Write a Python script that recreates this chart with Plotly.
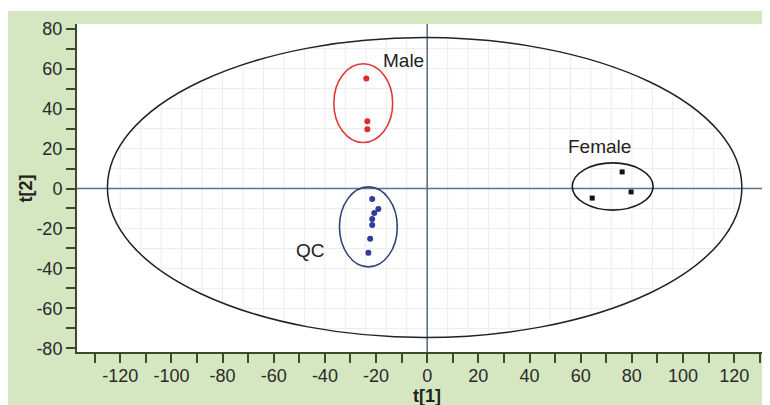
import numpy as np
import plotly.graph_objects as go

# ---- data ----
male_x = [-23.8, -23.4, -23.4]
male_y = [55.0, 33.7, 29.7]
qc_x = [-21.5, -19.1, -20.7, -21.5, -21.5, -22.3, -23.0]
qc_y = [-5.2, -10.2, -12.2, -15.2, -18.2, -25.2, -32.2]
female_x = [76.2, 79.7, 64.5]
female_y = [8.3, -1.7, -4.8]

group_names = ["Male", "QC", "Female"]
ell_cx = [-25.0, -23.0, 72.5]
ell_cy = [42.7, -19.2, 1.0]
ell_rx = [11.5, 11.3, 15.8]
ell_ry = [19.7, 20.0, 11.8]
label_x = [-9.1, -45.8, 67.5]
label_y = [63.9, -30.8, 20.8]

# Hotelling T2 ellipse
t2_cx, t2_cy, t2_rx, t2_ry = -1.0, 0.5, 124.0, 75.0

x_tickvals = list(range(-130, 131, 10))
x_ticktext = [str(v) if v % 20 == 0 else "" for v in x_tickvals]
y_tickvals = list(range(-80, 81, 10))
y_ticktext = [str(v) if v % 20 == 0 else "" for v in y_tickvals]

grid_x = list(range(-120, 121, 8))
grid_y = list(range(-70, 71, 10))

# ---- styles ----
GREEN = "#d5e7c1"
AXIS = "#3b4a2c"
REF = "#5d7189"
FONT = "Liberation Sans, Arial, sans-serif"
ell_colors = ["#e23a3a", "#34437e", "#1a1a1a"]

fig = go.Figure()

# faint grid clipped to the T2 ellipse
gx, gy = [], []
for g in grid_x:
    u = (g - t2_cx) / t2_rx
    if abs(u) < 1:
        h = t2_ry * np.sqrt(1 - u * u)
        gx += [g, g, None]
        gy += [t2_cy - h, t2_cy + h, None]
for g in grid_y:
    v = (g - t2_cy) / t2_ry
    if abs(v) < 1:
        w = t2_rx * np.sqrt(1 - v * v)
        gx += [t2_cx - w, t2_cx + w, None]
        gy += [g, g, None]
fig.add_trace(go.Scatter(x=gx, y=gy, mode="lines",
                         line=dict(color="#ededed", width=1),
                         hoverinfo="skip", showlegend=False))

# reference lines
fig.add_hline(y=0, line=dict(color=REF, width=1.6))
fig.add_vline(x=0, line=dict(color=REF, width=1.6))

# ellipses
fig.add_shape(type="circle", xref="x", yref="y",
              x0=t2_cx - t2_rx, x1=t2_cx + t2_rx,
              y0=t2_cy - t2_ry, y1=t2_cy + t2_ry,
              line=dict(color="#222222", width=1.5))
for i in range(3):
    fig.add_shape(type="circle", xref="x", yref="y",
                  x0=ell_cx[i] - ell_rx[i], x1=ell_cx[i] + ell_rx[i],
                  y0=ell_cy[i] - ell_ry[i], y1=ell_cy[i] + ell_ry[i],
                  line=dict(color=ell_colors[i], width=1.6))

# points
fig.add_trace(go.Scatter(x=male_x, y=male_y, mode="markers",
                         marker=dict(color="#e8242c", size=6, symbol="circle"),
                         showlegend=False))
fig.add_trace(go.Scatter(x=qc_x, y=qc_y, mode="markers",
                         marker=dict(color="#2f3d9c", size=6, symbol="circle"),
                         showlegend=False))
fig.add_trace(go.Scatter(x=female_x, y=female_y, mode="markers",
                         marker=dict(color="#111111", size=5, symbol="square"),
                         showlegend=False))

# group labels
for i in range(3):
    fig.add_annotation(x=label_x[i], y=label_y[i], text=group_names[i],
                       showarrow=False, xanchor="center", yanchor="middle",
                       font=dict(family=FONT, size=19, color="#222222"))

# axis titles
fig.add_annotation(x=0, xref="x", y=-0.135, yref="paper", text="<b>t[1]</b>",
                   showarrow=False, xanchor="center", yanchor="middle",
                   font=dict(family=FONT, size=18, color="#222222"))
fig.add_annotation(x=-0.075, xref="paper", y=0, yref="y", text="<b>t[2]</b>",
                   showarrow=False, textangle=-90, xanchor="center", yanchor="middle",
                   font=dict(family=FONT, size=18, color="#222222"))

# thin white strip at the top of the green panel
fig.add_shape(type="rect", xref="paper", yref="paper", x0=-0.2, x1=1.2,
              y0=(344 - 3) / 328, y1=1.2, fillcolor="white", line_width=0, layer="below")

fig.update_xaxes(range=[-136.9, 134.0], tickmode="array", tickvals=x_tickvals,
                 ticktext=x_ticktext, ticks="outside", ticklen=9, tickwidth=1.5,
                 tickcolor=AXIS, showline=True, linecolor=AXIS, linewidth=2,
                 showgrid=False, zeroline=False, automargin=False,
                 ticklabelstandoff=-3,
                 tickfont=dict(family=FONT, size=18, color="#2a2a2a"))
fig.update_yaxes(range=[-81.8, 82.3], tickmode="array", tickvals=y_tickvals,
                 ticktext=y_ticktext, ticks="outside", ticklen=9, tickwidth=1.5,
                 tickcolor=AXIS, showline=True, linecolor=AXIS, linewidth=2,
                 showgrid=False, zeroline=False, automargin=False,
                 tickfont=dict(family=FONT, size=18, color="#2a2a2a"))

fig.update_layout(width=762, height=397,
                  margin=dict(l=69, r=0, t=16, b=53),
                  paper_bgcolor=GREEN, plot_bgcolor="white",
                  showlegend=False)

fig.write_html("out.html")
